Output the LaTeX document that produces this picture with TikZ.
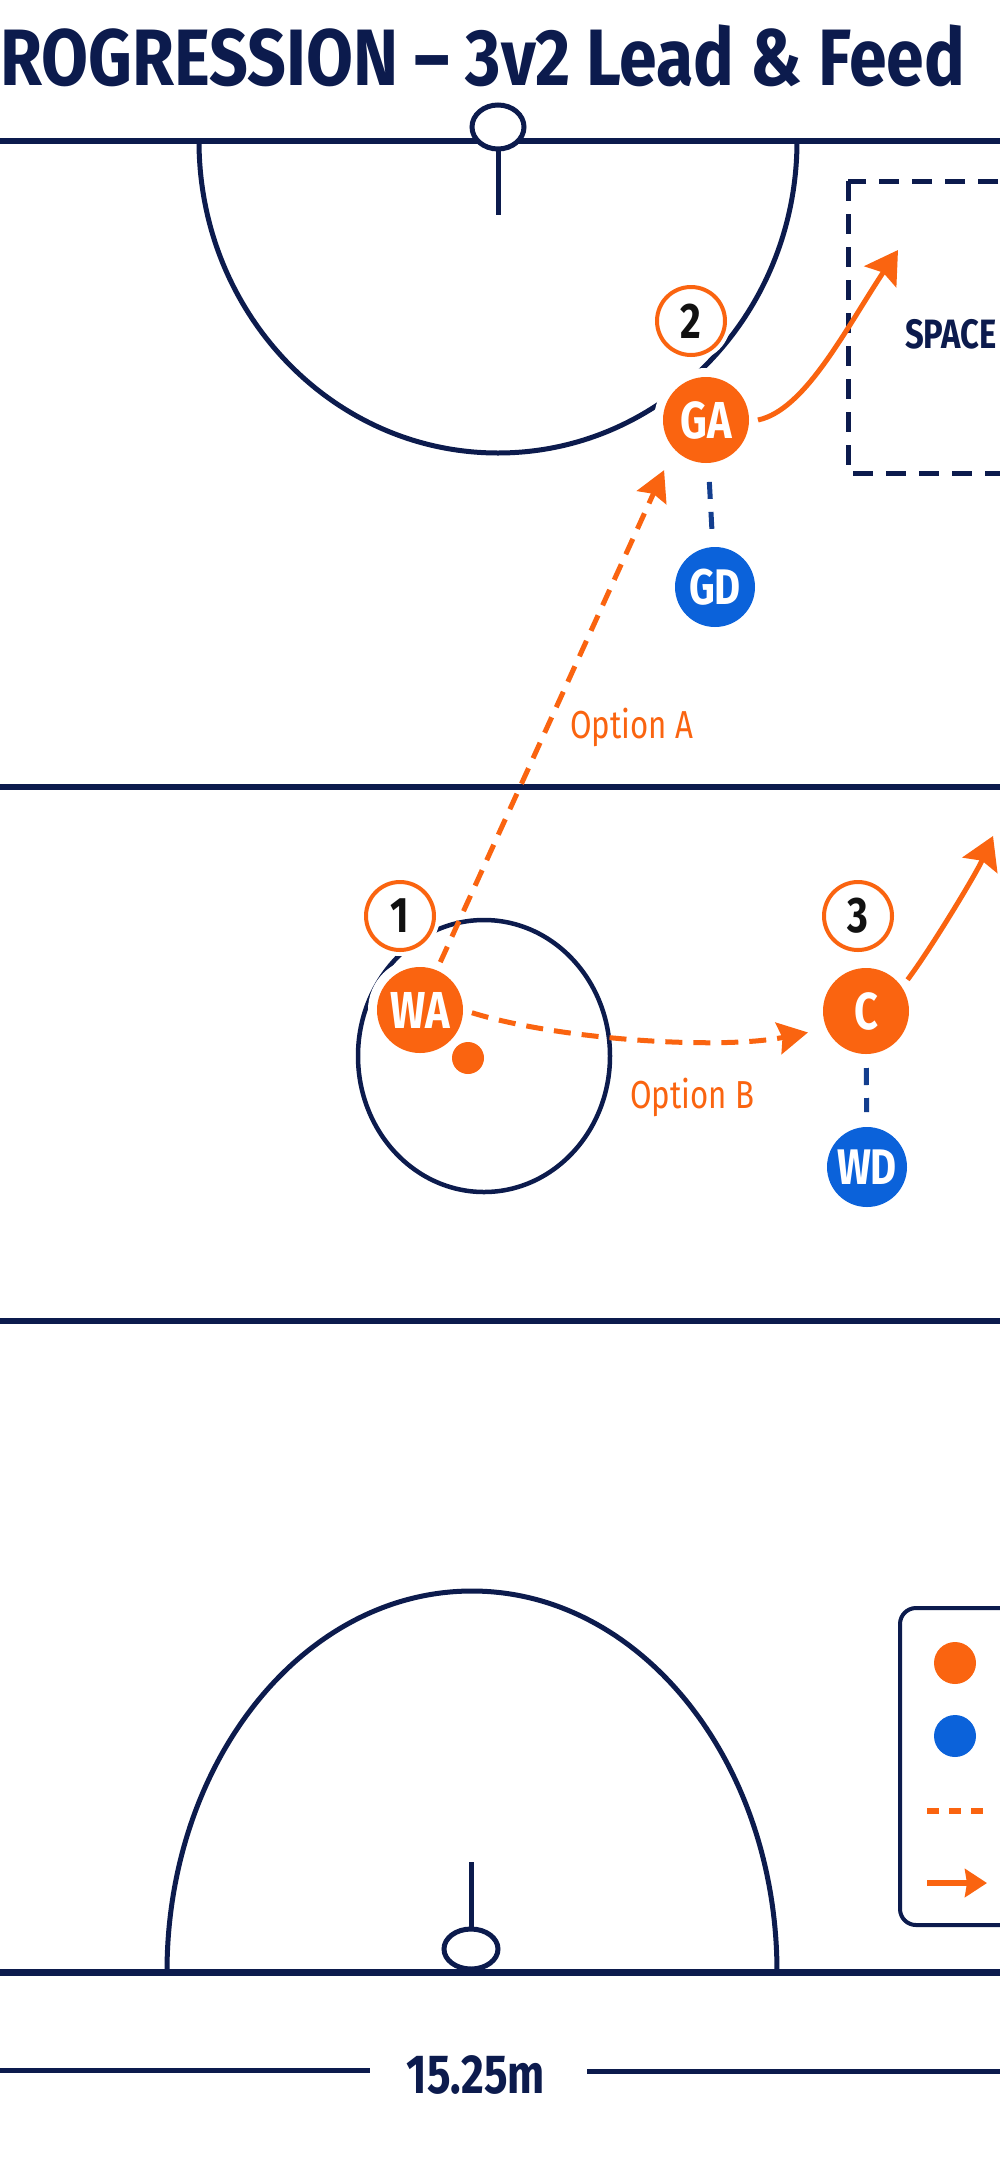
\documentclass[tikz,border=0pt]{standalone}
\usepackage{fontspec}
\setmainfont{Fira Sans}[FakeStretch=0.8]
\newfontfamily\titlefont{Fira Sans}[FakeStretch=0.85, Ligatures=TeX]
\usepackage{tikz}
\usetikzlibrary{positioning,arrows.meta}
\definecolor{CourtNavy}{HTML}{0C1B4D}
\definecolor{AttackOrange}{HTML}{FA6410}
\definecolor{DefendBlue}{HTML}{0B62DA}
\definecolor{MarkBlue}{HTML}{133E8E}
\definecolor{BadgeInk}{HTML}{111111}
\newcommand{\fsz}[1]{\fontsize{#1}{#1}\selectfont}

\tikzset{
  court/.style={draw=CourtNavy, line width=5pt},
  attacker/.style={circle, fill=AttackOrange, minimum size=86pt, inner sep=0pt, outer sep=9pt,
    preaction={draw=white, line width=18pt}, text=white, font=\fsz{52}\bfseries},
  defender/.style={circle, fill=DefendBlue, minimum size=80pt, inner sep=0pt, outer sep=8pt,
    preaction={draw=white, line width=16pt}, text=white, font=\fsz{50}\bfseries},
  badge/.style={circle, draw=AttackOrange, line width=4pt, fill=white, minimum size=68pt,
    inner sep=0pt, preaction={draw=white, line width=12pt}, text=BadgeInk, font=\fsz{50}\bfseries},
  pass/.style={AttackOrange, line width=5pt, dash pattern=on 17pt off 11pt,
    -{Stealth[length=30pt,width=32pt,inset=4pt]}},
  run/.style={AttackOrange, line width=5pt, -{Stealth[length=32pt,width=38pt,inset=5pt]}},
  markline/.style={MarkBlue, line width=5pt, dash pattern=on 17pt off 13pt},
  optlabel/.style={text=AttackOrange, font=\fsz{39}, anchor=base west, inner sep=0pt},
  navytext/.style={text=CourtNavy, inner sep=0pt}
}

\begin{document}
\begin{tikzpicture}[x=1pt, y=-1pt]
  \useasboundingbox (0,0) rectangle (1000,2176);
  \fill[white] (0,0) rectangle (1000,2176);
  \clip (0,0) rectangle (1000,2176);

  \node[navytext, anchor=base west, font=\titlefont\fsz{80}\bfseries] (title) at (0,85)
    {ROGRESSION \textendash{} 3v2 Lead \& Feed};

  % court
  \draw[court, line width=6pt] (0,141) -- (1000,141);
  \draw[court, line width=6pt] (0,787) -- (1000,787);
  \draw[court, line width=6pt] (0,1321) -- (1000,1321);
  \draw[court, line width=7pt] (0,1972) -- (1000,1972);
  \begin{scope}
    \clip (0,141) rectangle (1000,700);
    \draw[court] (498,141) ellipse [x radius=299, y radius=312];
  \end{scope}
  \begin{scope}
    \clip (0,1500) rectangle (1000,1972);
    \draw[court] (472,1972) ellipse [x radius=305, y radius=381];
  \end{scope}
  \draw[court] (498,149) -- (498,215);
  \draw[court, fill=white] (498,127) ellipse [x radius=26, y radius=22];
  \draw[court] (471,1862) -- (471,1928);
  \draw[court, fill=white] (471,1949) ellipse [x radius=27, y radius=20];
  \draw[court, line width=4.5pt] (484,1056) ellipse [x radius=126, y radius=136];

  \draw[CourtNavy, line width=5pt, dash pattern=on 20pt off 13pt] (848,181) rectangle (1060,473);
  \node[navytext, anchor=base west, font=\fsz{41}\bfseries] (space) at (905,348) {SPACE};

  % legend
  \draw[CourtNavy, line width=4pt, rounded corners=16pt] (900,1608) rectangle (1060,1925);
  \node[circle, fill=AttackOrange, minimum size=42pt, inner sep=0pt] (keyAtt) at (955,1663) {};
  \node[circle, fill=DefendBlue, minimum size=42pt, inner sep=0pt] (keyDef) at (955,1736) {};
  \coordinate (keyPassA) at (927,1811);
  \coordinate (keyPassB) at (984,1811);
  \coordinate (keyRunA) at (927,1883);
  \coordinate (keyRunB) at (987,1883);
  \draw[AttackOrange, line width=6pt, dash pattern=on 12pt off 10pt] (keyPassA) -- (keyPassB);
  \draw[AttackOrange, line width=6pt, -{Stealth[length=22pt,width=28pt,inset=2pt]}] (keyRunA) -- (keyRunB);

  % players
  \node[badge] (n2) at (691,321) {2};
  \node[badge] (n1) at (400,916) {1};
  \node[badge] (n3) at (858,916) {3};
  \node[attacker] (GA) at (706,420) {GA};
  \node[defender] (GD) at (715,587) {GD};
  \node[attacker] (WA) at (420,1010) {WA};
  \node[attacker] (C) at (866,1011) {C};
  \node[defender] (WD) at (867,1167) {WD};
  \node[circle, fill=AttackOrange, minimum size=32pt, inner sep=0pt] (ball) at (468,1058) {};

  \draw[markline, shorten <=10pt, shorten >=8pt] (GA) -- (GD);
  \draw[markline, shorten <=5pt, shorten >=7pt] (C) -- (WD);
  \draw[pass, shorten >=14pt] (WA.67) -- (GA.226);
  \draw[pass, shorten >=10pt] (WA.-3) .. controls (560,1040) and (720,1050) .. (C.202);
  \coordinate (gaRun) at (898,250);
  \coordinate (cRun) at (993,836);
  \draw[run] (GA.0) .. controls (805,410) and (845,330) .. (gaRun);
  \draw[run] (C.37) .. controls (930,950) and (976,874) .. (cRun);

  \node[optlabel] (optA) at (570,738) {Option A};
  \node[optlabel] (optB) at (630,1108) {Option B};

  % width
  \node[navytext, anchor=base, font=\fsz{55}\bfseries] (width) at (476,2093) {15.25m};
  \coordinate (dimL) at (0,2070);
  \coordinate (dimLend) at (370,2070);
  \coordinate (dimRend) at (587,2071);
  \coordinate (dimR) at (1000,2071);
  \draw[CourtNavy, line width=5pt] (dimL) -- (dimLend);
  \draw[CourtNavy, line width=5pt] (dimRend) -- (dimR);
\end{tikzpicture}
\end{document}
